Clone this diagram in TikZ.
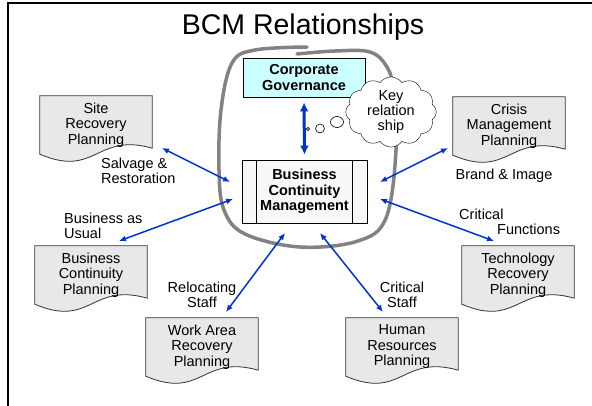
\documentclass[tikz,border=0pt]{standalone}
\usepackage{fontspec}
\setmainfont{Liberation Sans}
\usepackage{xcolor}
\usetikzlibrary{arrows.meta,shapes.symbols,calc,backgrounds}

\definecolor{linkblue}{RGB}{0,51,204}
\definecolor{govcyan}{RGB}{204,255,255}
\definecolor{docgray}{RGB}{232,232,232}
\definecolor{loopgray}{RGB}{130,130,130}

\tikzset{
	txt/.style={font=\fontsize{14.5}{15.5}\selectfont, align=center},
	lbl/.style={txt, inner sep=0pt},
	doc/.style={txt, minimum width=112pt, minimum height=58pt, inner sep=0pt},
	docline/.style={draw=black!80, fill=docgray, line width=0.8pt},
	box/.style={txt, draw, line width=0.8pt, inner sep=0pt, font=\fontsize{14.5}{15.5}\selectfont\bfseries},
	link/.style={linkblue, line width=1.5pt, {Latex[length=7pt,width=6pt]}-{Latex[length=7pt,width=6pt]}},
	govlink/.style={linkblue, line width=3pt, {Latex[length=9pt,width=9pt]}-{Latex[length=9pt,width=9pt]}, shorten <=5pt, shorten >=5pt}
}

\begin{document}
\begin{tikzpicture}[x=1pt, y=-1pt]
	\useasboundingbox (0,0) rectangle (592,406);
	\draw[line width=2pt] (592,3.5) -- (7.5,3.5) -- (7.5,406);
	\node[anchor=base, font=\fontsize{28.5}{30}\selectfont] (title) at (303,35) {BCM Relationships};

	% hand drawn loop round the two central boxes
	\draw[loopgray, line width=3.5pt, line cap=round] plot[smooth, tension=0.6] coordinates {(307,47) (255,50) (232,63) (221,110) (219,170) (224,210) (245,234) (300,247) (358,241) (386,218) (396,150) (393,90) (387,67) (370,52) (335,51) (297,54)};

	\node[box, fill=govcyan, minimum width=122pt, minimum height=39pt] (cg) at (304,77.5) {Corporate\\Governance};
	\node[box, fill=black!3, minimum width=125pt, minimum height=63pt] (bcm) at (304.5,191.5) {Business\\Continuity\\Management};
	\draw[line width=0.8pt] ([xshift=15pt]bcm.north west) -- ([xshift=15pt]bcm.south west)
		([xshift=-15pt]bcm.north east) -- ([xshift=-15pt]bcm.south east);

	\node[doc] (site) at (96,125) {Site\\Recovery\\Planning};
	\node[doc] (crisis) at (509,126) {Crisis\\Management\\Planning};
	\node[doc] (bcp) at (91,275) {Business\\Continuity\\Planning};
	\node[doc] (tech) at (518,275) {Technology\\Recovery\\Planning};
	\node[doc] (work) at (202,347) {Work Area\\Recovery\\Planning};
	\node[doc] (hr) at (402,347) {Human\\Resources\\Planning};

	% document outlines with a wavy bottom edge
	\begin{scope}[on background layer]
	\foreach \d in {site,crisis,bcp,tech,work,hr}
		\draw[docline] (\d.south west) -- (\d.north west) -- (\d.north east) -- ($(\d.south east)+(0,-6)$)
			.. controls ($(\d.south)+(0,-22)$) and ($(\d.south)+(0,24)$) .. (\d.south west) -- cycle;
	\end{scope}

	\node[cloud, draw, fill=white, cloud puffs=12, cloud puff arc=110, aspect=1.4, inner sep=-3pt, lbl, font=\fontsize{14.5}{15}\selectfont] (key) at (391,112) {Key\\relation\\ship};
	\draw[fill=white, line width=0.6pt] (337,122) ellipse (6.5 and 5.5) (320,128.5) circle (4.5) (308,129) circle (1.6);

	\coordinate (site-end) at (162,148);
	\coordinate (bcm-site) at (230,182);
	\coordinate (bcp-end) at (119,241);
	\coordinate (bcm-bcp) at (233,199);
	\coordinate (crisis-end) at (448,148);
	\coordinate (bcm-crisis) at (380,182);
	\coordinate (tech-end) at (494,241);
	\coordinate (bcm-tech) at (380,199);
	\coordinate (work-end) at (226,312);
	\coordinate (bcm-work) at (285,233);
	\coordinate (hr-end) at (383,312);
	\coordinate (bcm-hr) at (320,233);

	\draw[govlink] (cg.south) -- (bcm.north);
	\draw[link] (site-end) -- (bcm-site);
	\draw[link] (bcp-end) -- (bcm-bcp);
	\draw[link] (crisis-end) -- (bcm-crisis);
	\draw[link] (tech-end) -- (bcm-tech);
	\draw[link] (work-end) -- (bcm-work);
	\draw[link] (hr-end) -- (bcm-hr);

	\node[lbl, align=left, anchor=west] (salvage) at (101,171) {Salvage \&\\Restoration};
	\node[lbl, align=left, anchor=west] (usual) at (64,226) {Business as\\Usual};
	\node[lbl] (brand) at (504,176) {Brand \& Image};
	\node[lbl, align=left, anchor=west] (functions) at (459,222) {Critical\\\hspace*{38pt}Functions};
	\node[lbl] (relocating) at (202,295) {Relocating\\Staff};
	\node[lbl] (critstaff) at (402,295) {Critical\\Staff};
\end{tikzpicture}
\end{document}
